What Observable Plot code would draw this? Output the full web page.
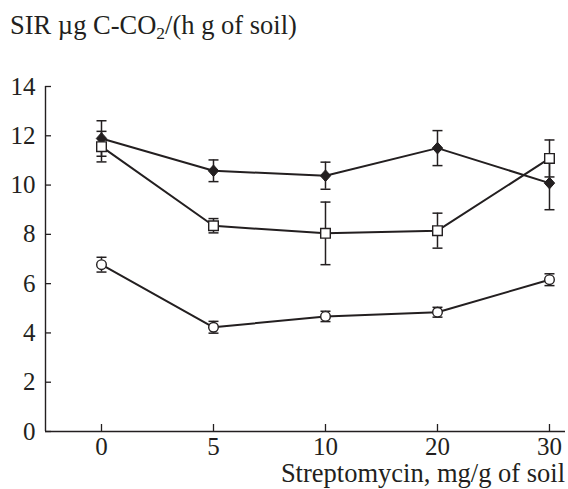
<!DOCTYPE html>
<html><head><meta charset="utf-8">
<script src="https://cdn.jsdelivr.net/npm/d3@7"></script>
<script src="https://cdn.jsdelivr.net/npm/@observablehq/plot@0.6"></script>
<style>
body{margin:0;background:#fff;}
#wrap{position:relative;width:568px;height:489px;font-family:"Liberation Serif","Times New Roman",serif;color:#231f20;}
#title{position:absolute;left:10px;top:12px;font-size:26.5px;line-height:1;white-space:nowrap;}
#title sub{font-size:0.66em;vertical-align:-0.3em;line-height:0;}
#xlabel{position:absolute;right:3px;top:460px;font-size:26.5px;line-height:1;white-space:nowrap;}
#chart{position:absolute;left:0;top:0;}
</style></head><body>
<div id="wrap"><div id="chart"></div><div id="title">SIR µg C-CO<sub>2</sub>/(h g of soil)</div><div id="xlabel">Streptomycin, mg/g of soil</div></div>
<script>
const doses = ["0", "5", "10", "20", "30"];
const yTicks = [0, 2, 4, 6, 8, 10, 12, 14];
const diamondMean = [11.89, 10.58, 10.38, 11.5, 10.08];
const diamondErr  = [0.72, 0.44, 0.55, 0.71, 1.08];
const squareMean  = [11.56, 8.35, 8.04, 8.15, 11.08];
const squareErr   = [0.62, 0.29, 1.27, 0.71, 0.75];
const circleMean  = [6.77, 4.23, 4.67, 4.84, 6.16];
const circleErr   = [0.30, 0.24, 0.21, 0.20, 0.24];

const ink = "#231f20";
const mk = (key, mean, err) => doses.map((d, i) => ({series: key, i, dose: d, mean: mean[i], lo: mean[i] - err[i], hi: mean[i] + err[i]}));
const diamonds = mk("diamond", diamondMean, diamondErr);
const squares = mk("square", squareMean, squareErr);
const circles = mk("circle", circleMean, circleErr);
const all = [...diamonds, ...squares, ...circles];

const capSym = {draw(c) { c.moveTo(-5, 0); c.lineTo(5, 0); }};
const diamondSym = {draw(c) { c.moveTo(0, -5.8); c.lineTo(5.2, 0); c.lineTo(0, 5.8); c.lineTo(-5.2, 0); c.closePath(); }};
const squareSym = {draw(c) { c.rect(-4.8, -4.8, 9.6, 9.6); }};
const circleSym = {draw(c) { c.moveTo(4.8, 0); c.arc(0, 0, 4.8, 0, 2 * Math.PI); }};

const xDomain = [-0.5, 4.143];
const chart = Plot.plot({
  width: 568, height: 489,
  marginTop: 86, marginBottom: 58, marginLeft: 45, marginRight: 3,
  style: {fontFamily: '"Liberation Serif", "Times New Roman", serif', fontSize: "25px", color: ink, background: "transparent"},
  x: {domain: xDomain, axis: null},
  y: {domain: [0, 14], axis: null},
  marks: [
    Plot.ruleX([xDomain[0]], {stroke: ink, strokeWidth: 1.4}),
    Plot.ruleY([0], {stroke: ink, strokeWidth: 1.4}),
    Plot.axisX([0, 1, 2, 3, 4], {tickSize: -7, tickPadding: 13, tickFormat: i => doses[i], label: null, stroke: ink, fill: ink, fontSize: 25, strokeWidth: 1.3}),
    Plot.axisY(yTicks, {tickSize: -6, tickPadding: 16, label: null, stroke: ink, fill: ink, fontSize: 25, strokeWidth: 1.3}),
    Plot.ruleX(all, {x: "i", y1: "lo", y2: "hi", stroke: ink, strokeWidth: 1.5}),
    Plot.dot(all, {x: "i", y: "lo", symbol: capSym, stroke: ink, strokeWidth: 1.5, fill: "none"}),
    Plot.dot(all, {x: "i", y: "hi", symbol: capSym, stroke: ink, strokeWidth: 1.5, fill: "none"}),
    Plot.line(diamonds, {x: "i", y: "mean", stroke: ink, strokeWidth: 2}),
    Plot.line(squares, {x: "i", y: "mean", stroke: ink, strokeWidth: 2}),
    Plot.line(circles, {x: "i", y: "mean", stroke: ink, strokeWidth: 2}),
    Plot.dot(diamonds, {x: "i", y: "mean", symbol: diamondSym, fill: ink, stroke: ink, strokeWidth: 1}),
    Plot.dot(squares, {x: "i", y: "mean", symbol: squareSym, fill: "white", stroke: ink, strokeWidth: 1.4}),
    Plot.dot(circles, {x: "i", y: "mean", symbol: circleSym, fill: "white", stroke: ink, strokeWidth: 1.4})
  ]
});
document.getElementById("chart").appendChild(chart);
</script>
</body></html>
